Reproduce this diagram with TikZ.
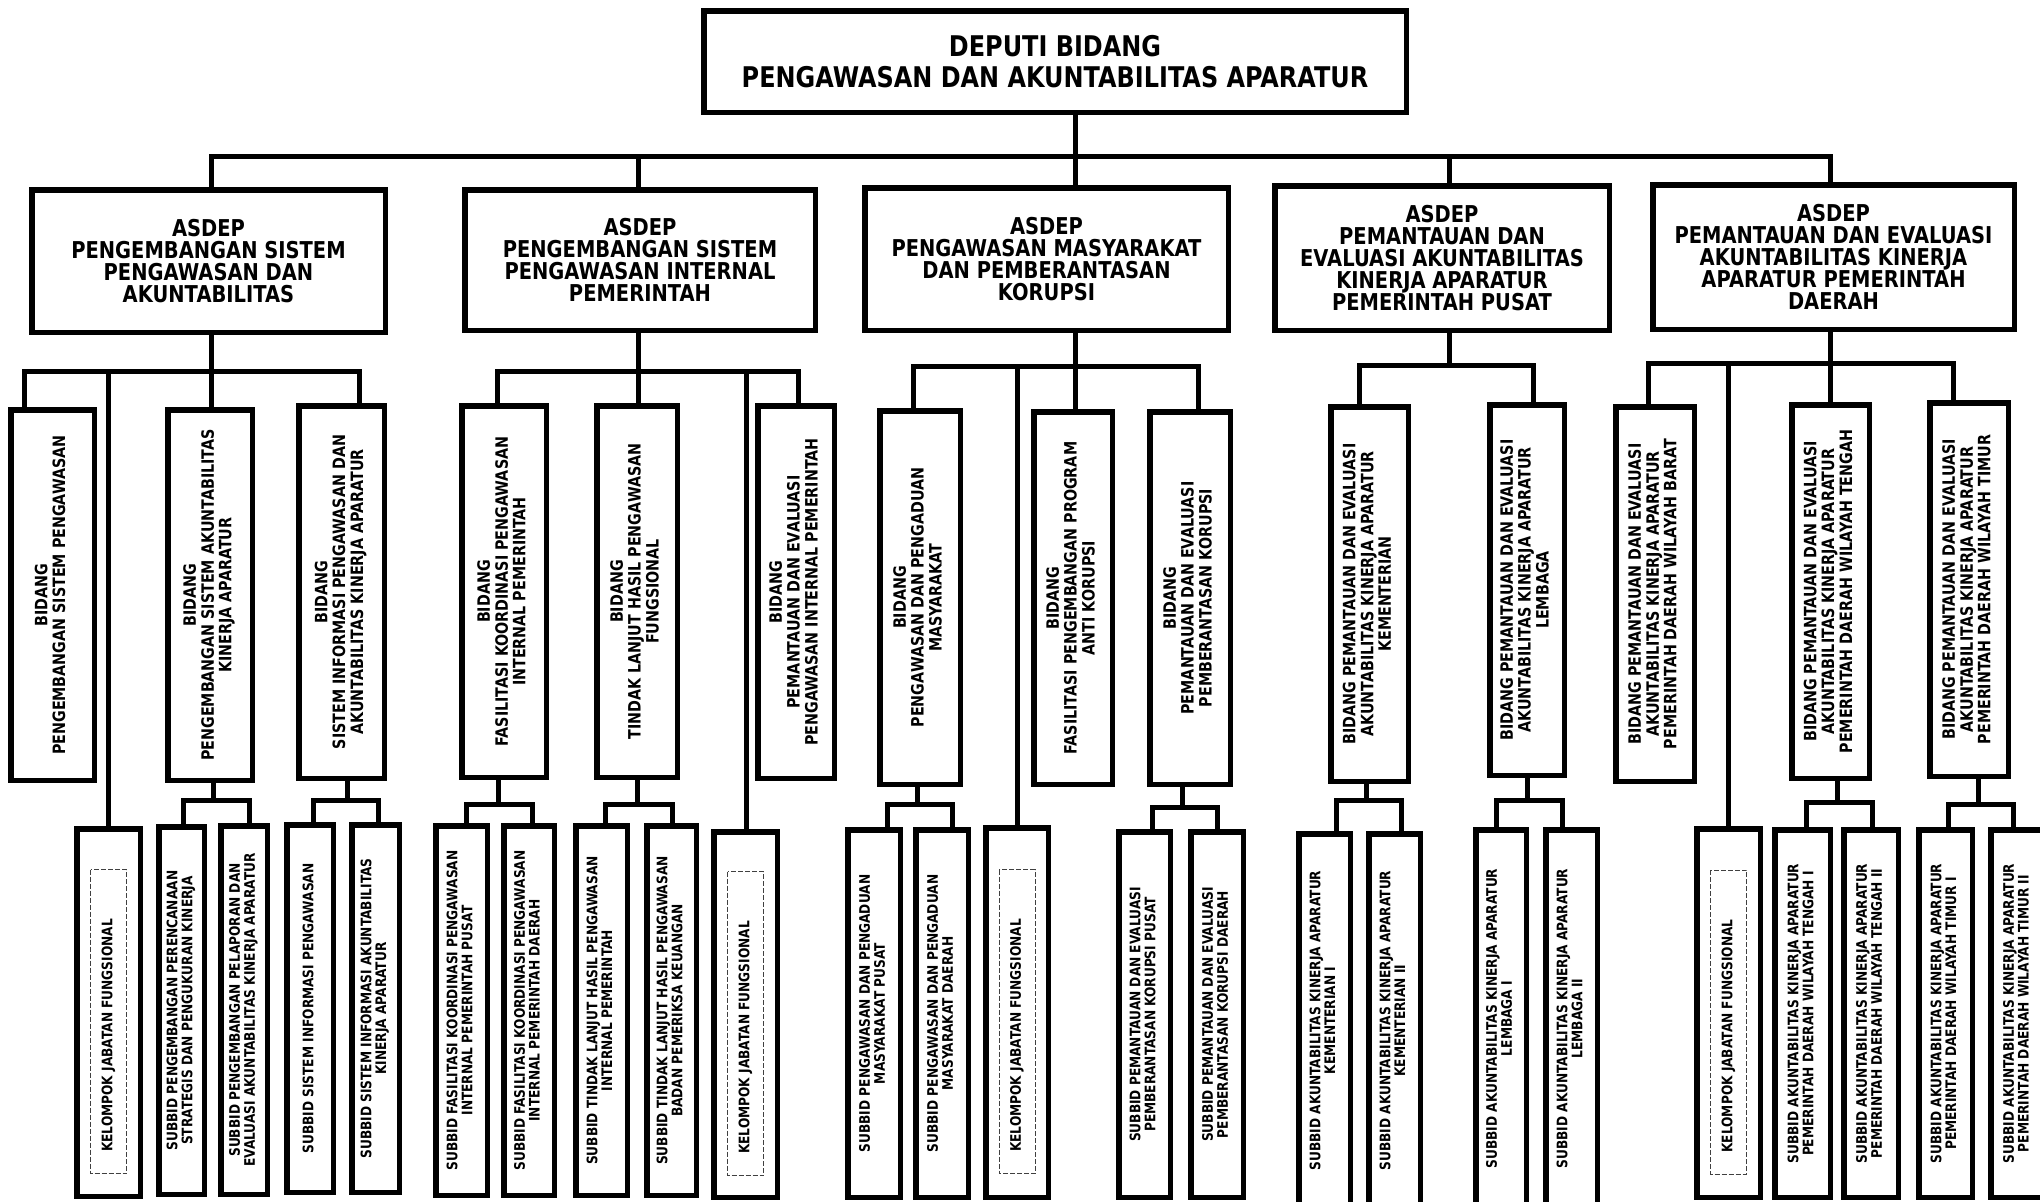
\documentclass[tikz,border=0pt]{standalone}
\usepackage{fontspec}
\setmainfont{DejaVu Sans}[FakeStretch=0.84]
\usepackage{graphicx}

% font sizes of the four levels of the chart
\newcommand{\depfont}{\fontsize{28.5}{31}\selectfont\bfseries}
\newcommand{\asdepfont}{\fontsize{23.2}{22}\selectfont\bfseries}
\newcommand{\bidfont}{\fontsize{17}{17.5}\selectfont\bfseries}
\newcommand{\subfont}{\fontsize{14.5}{13.8}\selectfont\bfseries}

% text set bottom-to-top inside the tall boxes
\newcommand{\vtext}[1]{\rotatebox{90}{\begin{tabular}{@{}c@{}}#1\end{tabular}}}

% \orgbox[style]{name}{x1}{y1}{x2}{y2}{text}: box given by its outer edges
\newcommand{\orgbox}[7][]{%
  \node[orgnode,#1,minimum width={#5-#3-5.5},minimum height={#6-#4-5.5}]
    (#2) at ({(#3+#5)/2},{(#4+#6)/2}) {#7};}

% \subbus{parent}{x}{y}{x left}{x right}{left child}{right child}
\newcommand{\subbus}[7]{%
  \coordinate (#1j) at (#2,#3);
  \coordinate (#1l) at (#4,#3);
  \coordinate (#1r) at (#5,#3);
  \draw[conn] (#1.south -| #1j) -- (#1j);
  \draw[conn] (#1l |- #6.north) -- (#1l) -- (#1r) -- (#1r |- #7.north);}

% functional group box with its dashed inner frame
\newcommand{\kelbox}[5]{%
  \orgbox{#1}{#2}{#3}{#4}{#5}{\subfont\rotatebox{90}{KELOMPOK JABATAN FUNGSIONAL\hspace{46pt}}}
  \draw[dashbox] ([shift={(-18,-143)}]#1.center) rectangle ([shift={(18,161)}]#1.center);}

\tikzset{
  orgnode/.style={draw=black,fill=white,line width=5.5pt,inner sep=0pt,outer sep=0pt,
    rectangle,text=black},
  conn/.style={draw=black,line width=5pt,line join=miter},
  dashbox/.style={draw=black!75,line width=1pt,dash pattern=on 5pt off 2pt},
}

\begin{document}
\begin{tikzpicture}[x=1pt,y=-1pt]
\useasboundingbox[fill=white] (0,0) rectangle (2040,1202);

% ---------------- deputy ----------------
\orgbox[align=center,font=\depfont]{dep}{701}{8}{1409}{115}{DEPUTI BIDANG\\PENGAWASAN DAN AKUNTABILITAS APARATUR}

% ---------------- assistant deputies ----------------
\orgbox[align=center,font=\asdepfont]{a1}{29}{187}{388}{335}{ASDEP\\PENGEMBANGAN SISTEM\\PENGAWASAN DAN\\AKUNTABILITAS}
\orgbox[align=center,font=\asdepfont]{a2}{462}{187}{818}{333}{ASDEP\\PENGEMBANGAN SISTEM\\PENGAWASAN INTERNAL\\PEMERINTAH}
\orgbox[align=center,font=\asdepfont]{a3}{862}{185}{1231}{333}{ASDEP\\PENGAWASAN MASYARAKAT\\DAN PEMBERANTASAN\\KORUPSI}
\orgbox[align=center,font=\asdepfont]{a4}{1272}{183}{1612}{333}{ASDEP\\PEMANTAUAN DAN\\EVALUASI AKUNTABILITAS\\KINERJA APARATUR\\PEMERINTAH PUSAT}
\orgbox[align=center,font=\asdepfont]{a5}{1650}{182}{2017}{332}{ASDEP\\PEMANTAUAN DAN EVALUASI\\AKUNTABILITAS KINERJA\\APARATUR PEMERINTAH\\DAERAH}

% ---------------- divisions ----------------
\orgbox{b11}{8}{407}{97}{783}{\bidfont\vtext{BIDANG\\PENGEMBANGAN SISTEM PENGAWASAN}}
\orgbox{b12}{165}{407}{255}{783}{\bidfont\vtext{BIDANG\\PENGEMBANGAN SISTEM AKUNTABILITAS\\KINERJA APARATUR}}
\orgbox{b13}{296}{403}{387}{781}{\bidfont\vtext{BIDANG\\SISTEM INFORMASI PENGAWASAN DAN\\AKUNTABILITAS KINERJA APARATUR}}

\orgbox{b21}{459}{403}{549}{780}{\bidfont\vtext{BIDANG\\FASILITASI KOORDINASI PENGAWASAN\\INTERNAL PEMERINTAH}}
\orgbox{b22}{594}{403}{680}{780}{\bidfont\vtext{BIDANG\\TINDAK LANJUT HASIL PENGAWASAN\\FUNGSIONAL}}
\orgbox{b23}{755}{403}{837}{781}{\bidfont\vtext{BIDANG\\PEMANTAUAN DAN EVALUASI\\PENGAWASAN INTERNAL PEMERINTAH}}

\orgbox{b31}{877}{408}{963}{787}{\bidfont\vtext{BIDANG\\PENGAWASAN DAN PENGADUAN\\MASYARAKAT}}
\orgbox{b32}{1031}{409}{1115}{787}{\bidfont\vtext{BIDANG\\FASILITASI PENGEMBANGAN PROGRAM\\ANTI KORUPSI}}
\orgbox{b33}{1147}{409}{1233}{787}{\bidfont\vtext{BIDANG\\PEMANTAUAN DAN EVALUASI\\PEMBERANTASAN KORUPSI}}

\orgbox{b41}{1328}{404}{1411}{784}{\bidfont\vtext{BIDANG PEMANTAUAN DAN EVALUASI\\AKUNTABILITAS KINERJA APARATUR\\KEMENTERIAN}}
\orgbox{b42}{1487}{402}{1567}{778}{\bidfont\vtext{BIDANG PEMANTAUAN DAN EVALUASI\\AKUNTABILITAS KINERJA APARATUR\\LEMBAGA}}

\orgbox{b51}{1613}{404}{1697}{784}{\bidfont\vtext{BIDANG PEMANTAUAN DAN EVALUASI\\AKUNTABILITAS KINERJA APARATUR\\PEMERINTAH DAERAH WILAYAH BARAT}}
\orgbox{b52}{1789}{402}{1872}{781}{\bidfont\vtext{BIDANG PEMANTAUAN DAN EVALUASI\\AKUNTABILITAS KINERJA APARATUR\\PEMERINTAH DAERAH WILAYAH TENGAH}}
\orgbox{b53}{1927}{400}{2011}{779}{\bidfont\vtext{BIDANG PEMANTAUAN DAN EVALUASI\\AKUNTABILITAS KINERJA APARATUR\\PEMERINTAH DAERAH WILAYAH TIMUR}}

% ---------------- functional groups ----------------
\kelbox{k1}{74}{826}{143}{1199}
\kelbox{k2}{711}{829}{780}{1200}
\kelbox{k3}{983}{825}{1051}{1200}
\kelbox{k5}{1694}{826}{1763}{1200}

% ---------------- sub-divisions ----------------
\orgbox{s12a}{156}{824}{207}{1197}{\subfont\vtext{SUBBID PENGEMBANGAN PERENCANAAN\\STRATEGIS DAN PENGUKURAN KINERJA}}
\orgbox{s12b}{218}{823}{270}{1197}{\subfont\vtext{SUBBID PENGEMBANGAN PELAPORAN DAN\\EVALUASI AKUNTABILITAS KINERJA APARATUR}}
\orgbox{s13a}{284}{822}{336}{1195}{\subfont\vtext{SUBBID SISTEM INFORMASI PENGAWASAN}}
\orgbox{s13b}{349}{822}{402}{1195}{\subfont\vtext{SUBBID SISTEM INFORMASI AKUNTABILITAS\\KINERJA APARATUR}}

\orgbox{s21a}{433}{823}{490}{1198}{\subfont\vtext{SUBBID FASILITASI KOORDINASI PENGAWASAN\\INTERNAL PEMERINTAH PUSAT}}
\orgbox{s21b}{501}{823}{557}{1198}{\subfont\vtext{SUBBID FASILITASI KOORDINASI PENGAWASAN\\INTERNAL PEMERINTAH DAERAH}}
\orgbox{s22a}{573}{823}{630}{1198}{\subfont\vtext{SUBBID TINDAK LANJUT HASIL PENGAWASAN\\INTERNAL PEMERINTAH}}
\orgbox{s22b}{644}{823}{699}{1198}{\subfont\vtext{SUBBID TINDAK LANJUT HASIL PENGAWASAN\\BADAN PEMERIKSA KEUANGAN}}

\orgbox{s31a}{845}{827}{903}{1200}{\subfont\vtext{SUBBID PENGAWASAN DAN PENGADUAN\\MASYARAKAT PUSAT}}
\orgbox{s31b}{913}{827}{971}{1200}{\subfont\vtext{SUBBID PENGAWASAN DAN PENGADUAN\\MASYARAKAT DAERAH}}
\orgbox{s33a}{1116}{829}{1173}{1200}{\subfont\vtext{SUBBID PEMANTAUAN DAN EVALUASI\\PEMBERANTASAN KORUPSI PUSAT}}
\orgbox{s33b}{1188}{829}{1246}{1200}{\subfont\vtext{SUBBID PEMANTAUAN DAN EVALUASI\\PEMBERANTASAN KORUPSI DAERAH}}

\orgbox{s41a}{1296}{831}{1353}{1210}{\subfont\vtext{SUBBID AKUNTABILITAS KINERJA APARATUR\\KEMENTERIAN I}}
\orgbox{s41b}{1366}{831}{1423}{1210}{\subfont\vtext{SUBBID AKUNTABILITAS KINERJA APARATUR\\KEMENTERIAN II}}
\orgbox{s42a}{1473}{827}{1529}{1210}{\subfont\vtext{SUBBID AKUNTABILITAS KINERJA APARATUR\\LEMBAGA I}}
\orgbox{s42b}{1543}{827}{1600}{1210}{\subfont\vtext{SUBBID AKUNTABILITAS KINERJA APARATUR\\LEMBAGA II}}

\orgbox{s52a}{1772}{827}{1833}{1200}{\subfont\vtext{SUBBID AKUNTABILITAS KINERJA APARATUR\\PEMERINTAH DAERAH WILAYAH TENGAH I}}
\orgbox{s52b}{1841}{827}{1901}{1200}{\subfont\vtext{SUBBID AKUNTABILITAS KINERJA APARATUR\\PEMERINTAH DAERAH WILAYAH TENGAH II}}
\orgbox{s53a}{1916}{827}{1975}{1200}{\subfont\vtext{SUBBID AKUNTABILITAS KINERJA APARATUR\\PEMERINTAH DAERAH WILAYAH TIMUR I}}
\orgbox{s53b}{1988}{827}{2048}{1200}{\subfont\vtext{SUBBID AKUNTABILITAS KINERJA APARATUR\\PEMERINTAH DAERAH WILAYAH TIMUR II}}

% ---------------- deputy to assistant deputies ----------------
\coordinate (t1) at (211,156);
\coordinate (t2) at (638,156);
\coordinate (t3) at (1075,156);
\coordinate (t4) at (1449,156);
\coordinate (t5) at (1830,156);
\draw[conn] (dep.south -| t3) -- (t3 |- a3.north);
\draw[conn] (t1 |- a1.north) -- (t1) -- (t5) -- (t5 |- a5.north);
\draw[conn] (t2) -- (t2 |- a2.north);
\draw[conn] (t4) -- (t4 |- a4.north);

% ---------------- assistant deputies to divisions ----------------
\coordinate (g1a) at (24,371);  \coordinate (g1k) at (108,371);
\coordinate (g1c) at (211,371); \coordinate (g1d) at (359,371);
\draw[conn] (a1.south -| g1c) -- (g1c |- b12.north);
\draw[conn] (g1a |- b11.north) -- (g1a) -- (g1d) -- (g1d |- b13.north);
\draw[conn] (g1k) -- (g1k |- k1.north);

\coordinate (g2a) at (497,371); \coordinate (g2c) at (638,371);
\coordinate (g2k) at (746,371); \coordinate (g2d) at (798,371);
\draw[conn] (a2.south -| g2c) -- (g2c |- b22.north);
\draw[conn] (g2a |- b21.north) -- (g2a) -- (g2d) -- (g2d |- b23.north);
\draw[conn] (g2k) -- (g2k |- k2.north);

\coordinate (g3a) at (913,366);  \coordinate (g3k) at (1017,366);
\coordinate (g3c) at (1075,366); \coordinate (g3d) at (1198,366);
\draw[conn] (a3.south -| g3c) -- (g3c |- b32.north);
\draw[conn] (g3a |- b31.north) -- (g3a) -- (g3d) -- (g3d |- b33.north);
\draw[conn] (g3k) -- (g3k |- k3.north);

\coordinate (g4a) at (1359,365); \coordinate (g4c) at (1449,365);
\coordinate (g4d) at (1533,365);
\draw[conn] (a4.south -| g4c) -- (g4c);
\draw[conn] (g4a |- b41.north) -- (g4a) -- (g4d) -- (g4d |- b42.north);

\coordinate (g5a) at (1648,363); \coordinate (g5k) at (1728,363);
\coordinate (g5c) at (1830,363); \coordinate (g5d) at (1953,363);
\draw[conn] (a5.south -| g5c) -- (g5c |- b52.north);
\draw[conn] (g5a |- b51.north) -- (g5a) -- (g5d) -- (g5d |- b53.north);
\draw[conn] (g5k) -- (g5k |- k5.north);

% ---------------- divisions to sub-divisions ----------------
\subbus{b12}{213}{800}{183}{249}{s12a}{s12b}
\subbus{b13}{347}{800}{313}{378}{s13a}{s13b}
\subbus{b21}{498}{804}{466}{532}{s21a}{s21b}
\subbus{b22}{637}{804}{605}{672}{s22a}{s22b}
\subbus{b31}{917}{804}{887}{952}{s31a}{s31b}
\subbus{b33}{1182}{807}{1152}{1217}{s33a}{s33b}
\subbus{b41}{1366}{800}{1336}{1401}{s41a}{s41b}
\subbus{b42}{1527}{800}{1496}{1562}{s42a}{s42b}
\subbus{b52}{1837}{802}{1806}{1872}{s52a}{s52b}
\subbus{b53}{1978}{804}{1948}{2013}{s53a}{s53b}
\end{tikzpicture}
\end{document}
